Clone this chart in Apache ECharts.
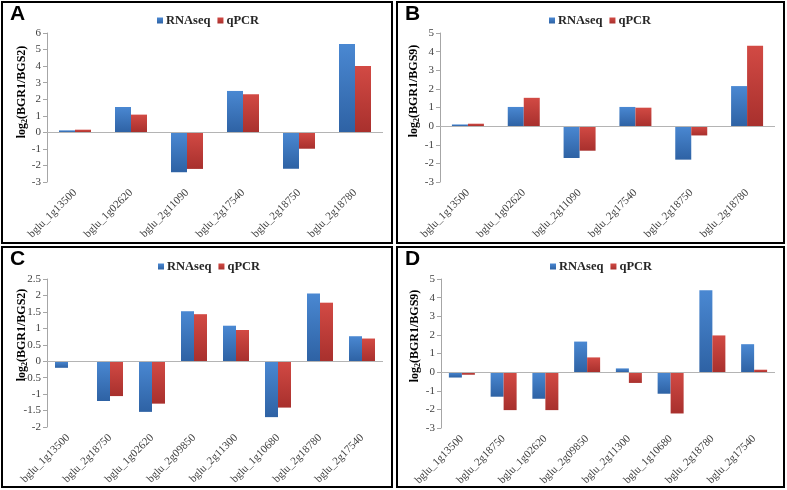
<!DOCTYPE html>
<html>
<head>
<meta charset="utf-8">
<script src="https://cdn.jsdelivr.net/npm/echarts@6/dist/echarts.min.js"></script>
<style>
html,body{margin:0;padding:0;background:#fff;}
#c{width:787px;height:490px;}
</style>
</head>
<body>
<div id="c"></div>
<script>
// ---- data ----
var catsAB = ['bglu_1g13500','bglu_1g02620','bglu_2g11090','bglu_2g17540','bglu_2g18750','bglu_2g18780'];
var catsCD = ['bglu_1g13500','bglu_2g18750','bglu_1g02620','bglu_2g09850','bglu_2g11300','bglu_1g10680','bglu_2g18780','bglu_2g17540'];
var rnaA  = [0.12, 1.53, -2.41, 2.50, -2.20, 5.33];
var qpcrA = [0.16, 1.07, -2.21, 2.30, -0.99, 4.00];
var rnaB  = [0.09, 1.03, -1.71, 1.03, -1.80, 2.15];
var qpcrB = [0.13, 1.52, -1.32, 0.99, -0.50, 4.31];
var rnaC  = [-0.20, -1.21, -1.54, 1.52, 1.08, -1.70, 2.06, 0.76];
var qpcrC = [0.00, -1.06, -1.29, 1.43, 0.95, -1.41, 1.78, 0.69];
var rnaD  = [-0.29, -1.32, -1.43, 1.64, 0.20, -1.16, 4.40, 1.50];
var qpcrD = [-0.14, -2.04, -2.04, 0.79, -0.58, -2.22, 1.97, 0.13];
var panelLetters = ['A','B','C','D'];
var yNames = ['BGR1/BGS2','BGR1/BGS9','BGR1/BGS2','BGR1/BGS9'];
var yMin = [-3, -3, -2, -3];
var yMax = [6, 5, 2.5, 5];
var yStep = [1, 1, 0.5, 1];

// ---- layout ----
var SERIF = '"Liberation Serif","Times New Roman",serif';
var SANS = '"Liberation Sans",Arial,sans-serif';
var panels = [
  {box:[2,2,390,241], grid:{left:47, top:33, width:336, height:149}, legend:[152,9], name:[22,92], cats:catsAB, rna:rnaA, q:qpcrA, bw:16},
  {box:[397,2,387,241], grid:{left:440, top:33, width:335, height:149}, legend:[544,9], name:[414,91], cats:catsAB, rna:rnaB, q:qpcrB, bw:16},
  {box:[2,247,390,240], grid:{left:47, top:279, width:336, height:148}, legend:[153,255], name:[22,335], cats:catsCD, rna:rnaC, q:qpcrC, bw:13},
  {box:[397,247,387,240], grid:{left:441, top:279, width:334, height:149}, legend:[545,255], name:[415,336], cats:catsCD, rna:rnaD, q:qpcrD, bw:13}
];

var blue = {type:'linear',x:0,y:0,x2:0,y2:1,colorStops:[{offset:0,color:'#4a88d2'},{offset:1,color:'#2e62a4'}]};
var red  = {type:'linear',x:0,y:0,x2:0,y2:1,colorStops:[{offset:0,color:'#d24a44'},{offset:1,color:'#a8302d'}]};

var grids=[], xAxes=[], yAxes=[], series=[], legends=[], graphics=[];
panels.forEach(function(p,i){
  grids.push({left:p.grid.left, top:p.grid.top, width:p.grid.width, height:p.grid.height, containLabel:false});
  xAxes.push({
    type:'category', gridIndex:i, data:p.cats,
    axisLine:{show:false, onZero:false}, axisTick:{show:false},
    axisLabel:{interval:0, rotate:45, margin:9, fontFamily:SERIF, fontSize:11, color:'#404040'}
  });
  yAxes.push({
    type:'value', gridIndex:i, min:yMin[i], max:yMax[i], interval:yStep[i],
    axisLine:{show:true, lineStyle:{color:'#a6a6a6', width:1}},
    axisTick:{show:true, length:4, lineStyle:{color:'#a6a6a6'}},
    splitLine:{show:false},
    axisLabel:{fontFamily:SERIF, fontSize:11, color:'#404040', margin:6}
  });
  series.push({
    name:'RNAseq', type:'bar', xAxisIndex:i, yAxisIndex:i, data:p.rna,
    barWidth:p.bw, barGap:'0%', itemStyle:{color:blue},
    markLine:{silent:true, symbol:'none', label:{show:false}, animation:false,
      lineStyle:{color:'#b4b4b4', width:1, type:'solid'}, data:[{yAxis:0}]},
    animation:false
  });
  series.push({
    name:'qPCR', type:'bar', xAxisIndex:i, yAxisIndex:i, data:p.q,
    barWidth:p.bw, barGap:'0%', itemStyle:{color:red}, animation:false
  });
  legends.push({
    left:p.legend[0], top:p.legend[1], data:['RNAseq','qPCR'], icon:'rect',
    itemWidth:6, itemHeight:6, itemGap:7, selectedMode:false,
    textStyle:{fontFamily:SERIF, fontWeight:'bold', fontSize:12.5, color:'#262626', padding:[0,0,0,-2]}
  });
  graphics.push({type:'rect', shape:{x:p.box[0], y:p.box[1], width:p.box[2], height:p.box[3]},
    style:{fill:null, stroke:'#000', lineWidth:2}, silent:true});
  graphics.push({type:'text', left:p.box[0]+8, top:p.box[1]+2,
    style:{text:panelLetters[i], font:'bold 21px '+SANS, fill:'#000'}});
  graphics.push({type:'text', x:p.name[0], y:p.name[1], rotation:Math.PI/2,
    style:{text:'{a|log}{s|2}{a|(' + yNames[i] + ')}', align:'center', verticalAlign:'middle',
      rich:{a:{fontFamily:SERIF, fontWeight:'bold', fontSize:12, fill:'#000', lineHeight:14, verticalAlign:'middle'},
            s:{fontFamily:SERIF, fontWeight:'bold', fontSize:8, fill:'#000', lineHeight:14, verticalAlign:'bottom', padding:[6,0,0,0]}}}});
});

var chart = echarts.init(document.getElementById('c'), null, {renderer:'canvas'});
chart.setOption({
  backgroundColor:'#fff',
  animation:false,
  grid:grids, xAxis:xAxes, yAxis:yAxes, series:series, legend:legends,
  graphic:graphics
});
</script>
</body>
</html>
